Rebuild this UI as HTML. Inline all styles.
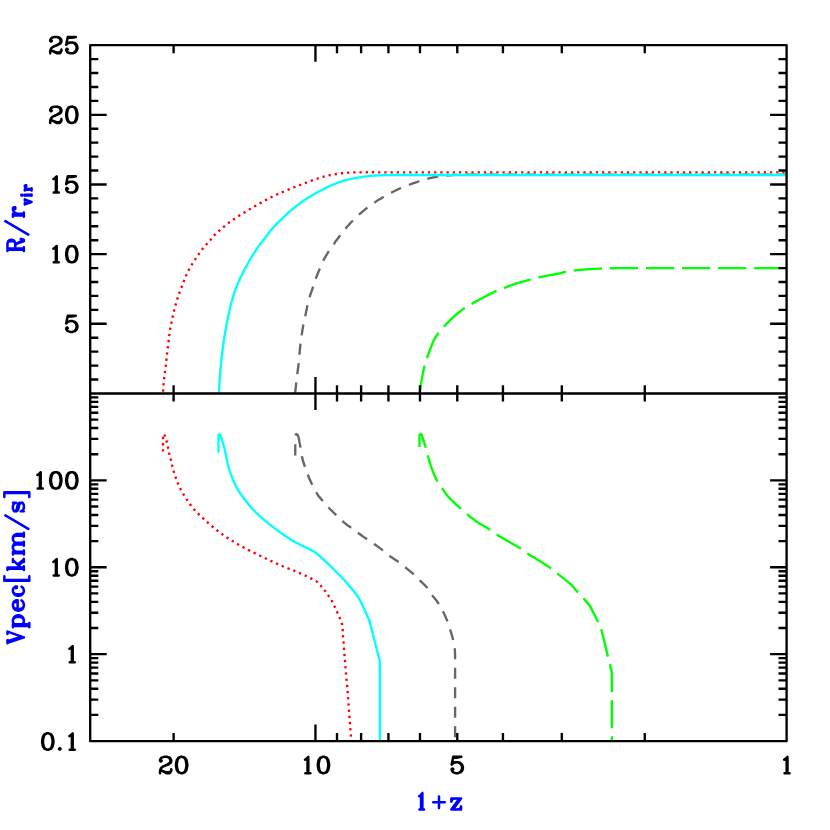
<!DOCTYPE html>
<html><head><meta charset="utf-8"><title>chart</title>
<style>html,body{margin:0;padding:0;background:#fff;font-family:"Liberation Sans",sans-serif}svg{display:block}</style></head>
<body>
<svg width="830" height="830" viewBox="0 0 830 830">
<rect width="830" height="830" fill="#fff"/>
<path d="M163 393.5 L163.03 392.93 L163.06 392.18 L163.11 391.27 L163.16 390.24 L163.22 389.14 L163.3 388 L163.38 386.82 L163.47 385.59 L163.57 384.27 L163.69 382.86 L163.83 381.34 L164 379.7 L164.22 377.89 L164.48 375.93 L164.76 373.85 L165.06 371.72 L165.34 369.58 L165.6 367.5 L165.83 365.46 L166.05 363.41 L166.26 361.36 L166.46 359.3 L166.68 357.25 L166.9 355.2 L167.14 353.15 L167.38 351.1 L167.63 349.05 L167.89 347 L168.14 344.95 L168.4 342.9 L168.65 340.85 L168.88 338.81 L169.12 336.77 L169.36 334.72 L169.64 332.67 L169.95 330.6 L170.3 328.51 L170.68 326.4 L171.09 324.28 L171.52 322.17 L171.96 320.07 L172.4 318 L172.85 315.96 L173.31 313.95 L173.78 311.95 L174.26 309.96 L174.77 307.98 L175.3 306 L175.85 304.02 L176.41 302.06 L176.99 300.1 L177.6 298.14 L178.23 296.18 L178.9 294.2 L179.64 292.14 L180.45 289.98 L181.29 287.81 L182.11 285.73 L182.87 283.83 L183.5 282.2 L183.95 280.96 L184.24 280.07 L184.47 279.36 L184.71 278.66 L185.06 277.79 L185.6 276.6 L186.31 275.08 L187.13 273.36 L188.05 271.49 L189.08 269.48 L190.23 267.38 L191.5 265.2 L192.96 262.85 L194.6 260.29 L196.37 257.62 L198.17 254.98 L199.94 252.46 L201.6 250.2 L203.2 248.16 L204.82 246.24 L206.4 244.45 L207.89 242.81 L209.24 241.32 L210.4 240 L211.19 239 L211.61 238.34 L211.89 237.84 L212.26 237.31 L212.92 236.56 L214.1 235.4 L215.84 233.77 L217.96 231.82 L220.38 229.64 L223.02 227.36 L225.79 225.07 L228.6 222.9 L231.49 220.82 L234.54 218.74 L237.72 216.66 L241 214.57 L244.37 212.49 L247.8 210.4 L251.37 208.25 L255.12 206.04 L258.96 203.82 L262.78 201.67 L266.49 199.64 L270 197.8 L273.29 196.18 L276.42 194.72 L279.45 193.39 L282.41 192.14 L285.35 190.93 L288.3 189.7 L291.25 188.47 L294.17 187.28 L297.06 186.12 L299.94 184.99 L302.82 183.88 L305.7 182.8 L308.66 181.71 L311.71 180.6 L314.75 179.51 L317.7 178.49 L320.48 177.58 L323 176.8 L325.22 176.19 L327.21 175.73 L329.02 175.36 L330.71 175.06 L332.36 174.79 L334 174.5 L335.6 174.21 L337.11 173.94 L338.56 173.7 L340 173.48 L341.47 173.28 L343 173.1 L344.59 172.94 L346.19 172.79 L347.81 172.67 L349.48 172.56 L351.21 172.47 L353 172.4 L354.85 172.35 L356.74 172.32 L358.68 172.31 L360.7 172.3 L362.8 172.3 L365 172.3 L367.33 172.29 L369.79 172.29 L372.34 172.29 L374.92 172.3 L377.51 172.3 L380.06 172.3 L382.57 172.3 L385.08 172.3 L387.59 172.3 L390.1 172.3 L392.6 172.3 L395.11 172.3 L397.62 172.3 L400.13 172.3 L402.64 172.3 L405.15 172.3 L407.66 172.3 L410.17 172.3 L412.68 172.3 L415.19 172.3 L417.7 172.3 L420.21 172.3 L422.72 172.3 L425.23 172.3 L427.74 172.3 L430.25 172.3 L432.76 172.3 L435.27 172.3 L437.78 172.3 L440.29 172.3 L442.8 172.3 L445.3 172.3 L447.81 172.3 L450.32 172.3 L452.83 172.3 L455.34 172.3 L457.85 172.3 L460.36 172.3 L462.87 172.3 L465.38 172.3 L467.89 172.3 L470.4 172.3 L472.91 172.3 L475.42 172.3 L477.93 172.3 L480.44 172.3 L482.95 172.3 L485.46 172.3 L487.97 172.3 L490.48 172.3 L492.99 172.3 L495.5 172.3 L498 172.3 L500.51 172.3 L503.02 172.3 L505.53 172.3 L508.04 172.3 L510.55 172.3 L513.06 172.3 L515.57 172.3 L518.08 172.3 L520.59 172.3 L523.1 172.3 L525.61 172.3 L528.12 172.3 L530.63 172.3 L533.14 172.3 L535.65 172.3 L538.16 172.3 L540.67 172.3 L543.18 172.3 L545.69 172.3 L548.2 172.3 L550.7 172.3 L553.21 172.3 L555.72 172.3 L558.23 172.3 L560.74 172.3 L563.25 172.3 L565.76 172.3 L568.27 172.3 L570.78 172.3 L573.29 172.3 L575.8 172.3 L578.31 172.3 L580.82 172.3 L583.33 172.3 L585.84 172.3 L588.35 172.3 L590.86 172.3 L593.37 172.3 L595.88 172.3 L598.39 172.3 L600.9 172.3 L603.4 172.3 L605.91 172.3 L608.42 172.3 L610.93 172.3 L613.44 172.3 L615.95 172.3 L618.46 172.3 L620.97 172.3 L623.48 172.3 L625.99 172.3 L628.5 172.3 L631.01 172.3 L633.52 172.3 L636.03 172.3 L638.54 172.3 L641.05 172.3 L643.56 172.3 L646.07 172.3 L648.58 172.3 L651.09 172.3 L653.6 172.3 L656.1 172.3 L658.61 172.3 L661.12 172.3 L663.63 172.3 L666.14 172.3 L668.65 172.3 L671.16 172.3 L673.67 172.3 L676.18 172.3 L678.69 172.3 L681.2 172.3 L683.71 172.3 L686.22 172.3 L688.73 172.3 L691.24 172.3 L693.75 172.3 L696.26 172.3 L698.77 172.3 L701.28 172.3 L703.79 172.3 L706.3 172.3 L708.8 172.3 L711.31 172.3 L713.82 172.3 L716.33 172.3 L718.84 172.3 L721.35 172.3 L723.86 172.3 L726.37 172.3 L728.88 172.3 L731.39 172.3 L733.9 172.3 L736.41 172.3 L738.92 172.3 L741.43 172.3 L743.94 172.3 L746.45 172.3 L748.96 172.3 L751.47 172.3 L753.98 172.3 L756.49 172.3 L759 172.3 L761.5 172.3 L764.01 172.3 L766.52 172.3 L769.03 172.3 L771.54 172.3 L774.23 172.3 L777.12 172.3 L780.01 172.3 L782.7 172.3 L784.96 172.3 L786.6 172.3" fill="none" stroke="#ff0000" stroke-width="2.35" stroke-linejoin="round" stroke-dasharray="2.3 3.92" stroke-dashoffset="-1.8"/>
<path d="M295.1 393.5 L295.18 392.71 L295.3 391.65 L295.43 390.38 L295.58 388.96 L295.74 387.48 L295.9 386 L296.06 384.52 L296.22 382.99 L296.39 381.38 L296.57 379.69 L296.77 377.9 L297 376 L297.26 374 L297.55 371.93 L297.86 369.75 L298.18 367.45 L298.5 365.01 L298.8 362.4 L299.08 359.57 L299.33 356.53 L299.58 353.34 L299.85 350.08 L300.15 346.81 L300.5 343.6 L300.93 340.31 L301.41 336.87 L301.94 333.41 L302.46 330.1 L302.96 327.08 L303.4 324.5 L303.77 322.48 L304.1 320.93 L304.39 319.67 L304.68 318.53 L304.98 317.33 L305.3 315.9 L305.65 314.22 L306.01 312.43 L306.39 310.57 L306.76 308.73 L307.14 306.95 L307.5 305.3 L307.84 303.82 L308.15 302.49 L308.46 301.21 L308.79 299.94 L309.16 298.59 L309.6 297.1 L310.12 295.46 L310.71 293.71 L311.34 291.9 L311.99 290.04 L312.65 288.16 L313.3 286.3 L313.89 284.5 L314.44 282.76 L315 281.01 L315.61 279.16 L316.33 277.15 L317.2 274.9 L318.25 272.31 L319.44 269.43 L320.73 266.38 L322.1 263.3 L323.5 260.33 L324.9 257.6 L326.4 255.02 L328.04 252.46 L329.72 250.01 L331.33 247.75 L332.76 245.75 L333.9 244.1 L334.59 243.03 L334.87 242.53 L334.97 242.29 L335.12 242.03 L335.56 241.43 L336.5 240.2 L338.02 238.22 L339.95 235.71 L342.16 232.87 L344.53 229.91 L346.91 227.01 L349.2 224.4 L351.39 222.04 L353.6 219.76 L355.83 217.56 L358.1 215.43 L360.42 213.34 L362.8 211.3 L365.24 209.3 L367.73 207.37 L370.27 205.48 L372.86 203.64 L375.5 201.85 L378.2 200.1 L380.97 198.38 L383.82 196.69 L386.72 195.04 L389.66 193.46 L392.59 191.94 L395.5 190.5 L398.37 189.16 L401.22 187.9 L404.08 186.71 L406.96 185.58 L409.89 184.48 L412.9 183.4 L416.03 182.32 L419.27 181.24 L422.56 180.2 L425.84 179.23 L429.08 178.35 L432.2 177.6 L435.22 176.99 L438.18 176.51 L441.09 176.12 L443.94 175.81 L446.74 175.54 L449.5 175.3 L452.19 175.09 L454.81 174.95 L457.37 174.86 L459.91 174.79 L462.45 174.75 L465 174.7 L467.56 174.67 L470.12 174.66 L472.67 174.66 L475.22 174.68 L477.76 174.69 L480.31 174.7 L482.87 174.7 L485.42 174.7 L487.97 174.7 L490.52 174.7 L493.08 174.7 L495.63 174.7 L498.18 174.7 L500.73 174.7 L503.29 174.7 L505.84 174.7 L508.39 174.7 L510.94 174.7 L513.5 174.7 L516.05 174.7 L518.6 174.7 L521.15 174.7 L523.7 174.7 L526.26 174.7 L528.81 174.7 L531.36 174.7 L533.91 174.7 L536.47 174.7 L539.02 174.7 L541.57 174.7 L544.12 174.7 L546.68 174.7 L549.23 174.7 L551.78 174.7 L554.33 174.7 L556.89 174.7 L559.44 174.7 L561.99 174.7 L564.54 174.7 L567.1 174.7 L569.65 174.7 L572.2 174.7 L574.75 174.7 L577.3 174.7 L579.86 174.7 L582.41 174.7 L584.96 174.7 L587.51 174.7 L590.07 174.7 L592.62 174.7 L595.17 174.7 L597.72 174.7 L600.28 174.7 L602.83 174.7 L605.38 174.7 L607.93 174.7 L610.49 174.7 L613.04 174.7 L615.59 174.7 L618.14 174.7 L620.7 174.7 L623.25 174.7 L625.8 174.7 L628.35 174.7 L630.9 174.7 L633.46 174.7 L636.01 174.7 L638.56 174.7 L641.11 174.7 L643.67 174.7 L646.22 174.7 L648.77 174.7 L651.32 174.7 L653.88 174.7 L656.43 174.7 L658.98 174.7 L661.53 174.7 L664.09 174.7 L666.64 174.7 L669.19 174.7 L671.74 174.7 L674.3 174.7 L676.85 174.7 L679.4 174.7 L681.95 174.7 L684.5 174.7 L687.06 174.7 L689.61 174.7 L692.16 174.7 L694.71 174.7 L697.27 174.7 L699.82 174.7 L702.37 174.7 L704.92 174.7 L707.48 174.7 L710.03 174.7 L712.58 174.7 L715.13 174.7 L717.69 174.7 L720.24 174.7 L722.79 174.7 L725.34 174.7 L727.9 174.7 L730.45 174.7 L733 174.7 L735.55 174.7 L738.1 174.7 L740.66 174.7 L743.21 174.7 L745.76 174.7 L748.31 174.7 L750.87 174.7 L753.42 174.7 L755.97 174.7 L758.52 174.7 L761.08 174.7 L763.63 174.7 L766.18 174.7 L768.73 174.7 L771.29 174.7 L774.02 174.7 L776.96 174.7 L779.9 174.7 L782.63 174.7 L784.93 174.7 L786.6 174.7" fill="none" stroke="#666666" stroke-width="2.35" stroke-linejoin="round" stroke-dasharray="11.1 8.4"/>
<path d="M218.9 393.5 L218.93 392.99 L218.96 392.35 L219 391.56 L219.05 390.59 L219.12 389.41 L219.2 388 L219.29 386.34 L219.39 384.46 L219.5 382.36 L219.63 380.08 L219.8 377.62 L220 375 L220.24 372.17 L220.51 369.1 L220.82 365.86 L221.15 362.51 L221.51 359.1 L221.9 355.7 L222.31 352.27 L222.76 348.74 L223.23 345.16 L223.72 341.57 L224.25 338 L224.8 334.5 L225.39 331.01 L226.03 327.48 L226.7 323.97 L227.38 320.56 L228.05 317.28 L228.7 314.2 L229.3 311.38 L229.87 308.8 L230.43 306.35 L231.02 303.96 L231.66 301.54 L232.4 299 L233.2 296.38 L234.03 293.76 L234.93 291.11 L235.9 288.4 L236.98 285.61 L238.2 282.7 L239.61 279.57 L241.21 276.21 L242.92 272.77 L244.66 269.39 L246.35 266.18 L247.9 263.3 L249.36 260.71 L250.79 258.3 L252.18 256.08 L253.47 254.05 L254.66 252.22 L255.7 250.6 L256.55 249.26 L257.23 248.22 L257.79 247.37 L258.3 246.64 L258.81 245.91 L259.4 245.1 L259.96 244.33 L260.44 243.71 L260.92 243.09 L261.51 242.36 L262.3 241.37 L263.4 240 L264.8 238.19 L266.43 236.02 L268.26 233.61 L270.28 231.03 L272.47 228.4 L274.8 225.8 L277.35 223.15 L280.16 220.35 L283.13 217.49 L286.19 214.66 L289.24 211.93 L292.2 209.4 L295.07 207.07 L297.9 204.87 L300.73 202.78 L303.59 200.77 L306.5 198.82 L309.5 196.9 L312.68 194.98 L316.03 193.08 L319.43 191.24 L322.77 189.5 L325.94 187.9 L328.8 186.5 L331.37 185.31 L333.75 184.29 L335.94 183.43 L337.97 182.67 L339.85 182.01 L341.6 181.4 L343.16 180.88 L344.52 180.48 L345.73 180.16 L346.84 179.9 L347.91 179.66 L349 179.4 L349.99 179.15 L350.82 178.94 L351.61 178.75 L352.49 178.56 L353.58 178.35 L355 178.1 L356.85 177.79 L359.05 177.44 L361.46 177.07 L363.95 176.7 L366.37 176.37 L368.6 176.1 L370.62 175.89 L372.54 175.73 L374.4 175.59 L376.24 175.49 L378.09 175.39 L380 175.3 L381.93 175.22 L383.84 175.15 L385.76 175.1 L387.74 175.06 L389.81 175.03 L392 175 L394.35 174.98 L396.82 174.98 L399.39 174.98 L402 174.99 L404.61 175 L407.18 175 L409.71 175 L412.24 175 L414.77 175 L417.29 175 L419.82 175 L422.35 175 L424.88 175 L427.41 175 L429.94 175 L432.47 175 L435 175 L437.53 175 L440.06 175 L442.59 175 L445.12 175 L447.65 175 L450.18 175 L452.71 175 L455.24 175 L457.77 175 L460.3 175 L462.83 175 L465.36 175 L467.88 175 L470.41 175 L472.94 175 L475.47 175 L478 175 L480.53 175 L483.06 175 L485.59 175 L488.12 175 L490.65 175 L493.18 175 L495.71 175 L498.24 175 L500.77 175 L503.3 175 L505.83 175 L508.36 175 L510.89 175 L513.42 175 L515.94 175 L518.47 175 L521 175 L523.53 175 L526.06 175 L528.59 175 L531.12 175 L533.65 175 L536.18 175 L538.71 175 L541.24 175 L543.77 175 L546.3 175 L548.83 175 L551.36 175 L553.89 175 L556.42 175 L558.95 175 L561.48 175 L564.01 175 L566.53 175 L569.06 175 L571.59 175 L574.12 175 L576.65 175 L579.18 175 L581.71 175 L584.24 175 L586.77 175 L589.3 175 L591.83 175 L594.36 175 L596.89 175 L599.42 175 L601.95 175 L604.48 175 L607.01 175 L609.54 175 L612.07 175 L614.59 175 L617.12 175 L619.65 175 L622.18 175 L624.71 175 L627.24 175 L629.77 175 L632.3 175 L634.83 175 L637.36 175 L639.89 175 L642.42 175 L644.95 175 L647.48 175 L650.01 175 L652.54 175 L655.07 175 L657.6 175 L660.13 175 L662.66 175 L665.18 175 L667.71 175 L670.24 175 L672.77 175 L675.3 175 L677.83 175 L680.36 175 L682.89 175 L685.42 175 L687.95 175 L690.48 175 L693.01 175 L695.54 175 L698.07 175 L700.6 175 L703.13 175 L705.66 175 L708.19 175 L710.72 175 L713.24 175 L715.77 175 L718.3 175 L720.83 175 L723.36 175 L725.89 175 L728.42 175 L730.95 175 L733.48 175 L736.01 175 L738.54 175 L741.07 175 L743.6 175 L746.13 175 L748.66 175 L751.19 175 L753.72 175 L756.25 175 L758.78 175 L761.31 175 L763.83 175 L766.36 175 L768.89 175 L771.42 175 L774.13 175 L777.04 175 L779.96 175 L782.67 175 L784.95 175 L786.6 175" fill="none" stroke="#00ffff" stroke-width="2.35" stroke-linejoin="round"/>
<path d="M419.9 393.5 L419.89 393.18 L419.84 392.89 L419.81 392.47 L419.82 391.76 L419.94 390.59 L420.2 388.8 L420.64 386.12 L421.23 382.63 L421.92 378.69 L422.67 374.63 L423.41 370.82 L424.1 367.6 L424.73 365.04 L425.33 362.86 L425.94 360.93 L426.57 359.09 L427.25 357.2 L428 355.1 L428.86 352.72 L429.8 350.16 L430.79 347.55 L431.79 345 L432.78 342.65 L433.7 340.6 L434.54 338.92 L435.33 337.53 L436.09 336.32 L436.86 335.21 L437.69 334.1 L438.6 332.9 L439.59 331.63 L440.63 330.37 L441.71 329.11 L442.85 327.84 L444.05 326.54 L445.3 325.2 L446.62 323.8 L448.02 322.34 L449.47 320.85 L450.96 319.36 L452.47 317.9 L454 316.5 L455.56 315.13 L457.17 313.77 L458.8 312.43 L460.43 311.14 L462.04 309.93 L463.6 308.8 L465.07 307.8 L466.46 306.93 L467.83 306.12 L469.22 305.33 L470.69 304.51 L472.3 303.6 L474.07 302.6 L475.96 301.53 L477.93 300.44 L479.93 299.33 L481.94 298.25 L483.9 297.2 L485.85 296.17 L487.84 295.13 L489.83 294.11 L491.78 293.13 L493.65 292.22 L495.4 291.4 L496.98 290.7 L498.4 290.12 L499.74 289.61 L501.09 289.11 L502.51 288.59 L504.1 288 L505.84 287.33 L507.68 286.61 L509.6 285.88 L511.59 285.13 L513.62 284.4 L515.7 283.7 L517.89 283.02 L520.2 282.35 L522.58 281.69 L524.92 281.05 L527.15 280.45 L529.2 279.9 L531 279.41 L532.61 278.96 L534.12 278.56 L535.6 278.17 L537.13 277.79 L538.8 277.4 L540.65 277 L542.63 276.59 L544.66 276.19 L546.68 275.81 L548.62 275.44 L550.4 275.1 L552.04 274.79 L553.61 274.51 L555.09 274.25 L556.48 274 L557.79 273.75 L559 273.5 L560.04 273.25 L560.9 273.01 L561.67 272.77 L562.45 272.53 L563.33 272.29 L564.4 272.05 L565.65 271.81 L567 271.56 L568.45 271.31 L570 271.06 L571.65 270.83 L573.4 270.6 L575.27 270.38 L577.26 270.17 L579.36 269.96 L581.53 269.76 L583.75 269.57 L586 269.4 L588.37 269.24 L590.89 269.09 L593.47 268.95 L596 268.82 L598.37 268.7 L600.5 268.6 L602.12 268.51 L603.27 268.44 L604.26 268.38 L605.43 268.34 L607.1 268.29 L609.6 268.25 L613.2 268.21 L617.69 268.18 L622.68 268.15 L627.77 268.13 L632.58 268.11 L636.7 268.1 L640.08 268.09 L643.03 268.09 L645.68 268.09 L648.19 268.09 L650.7 268.1 L653.36 268.1 L656.13 268.1 L658.91 268.1 L661.68 268.1 L664.46 268.1 L667.24 268.1 L670.01 268.1 L672.79 268.1 L675.56 268.1 L678.34 268.1 L681.11 268.1 L683.89 268.1 L686.67 268.1 L689.44 268.1 L692.22 268.1 L694.99 268.1 L697.77 268.1 L700.55 268.1 L703.32 268.1 L706.1 268.1 L708.87 268.1 L711.65 268.1 L714.43 268.1 L717.2 268.1 L719.98 268.1 L722.75 268.1 L725.53 268.1 L728.31 268.1 L731.08 268.1 L733.86 268.1 L736.63 268.1 L739.41 268.1 L742.19 268.1 L744.96 268.1 L747.74 268.1 L750.51 268.1 L753.29 268.1 L756.06 268.1 L758.84 268.1 L761.62 268.1 L764.39 268.1 L767.17 268.1 L769.94 268.1 L772.91 268.1 L776.11 268.1 L779.31 268.1 L782.28 268.1 L784.79 268.1 L786.6 268.1" fill="none" stroke="#00ff00" stroke-width="2.35" stroke-linejoin="round" stroke-dasharray="28.2 7.9"/>
<path d="M163 452.7 L163 434.7 L163.7 434 L164.6 435.2 L164.8 435.76 L165.08 436.52 L165.41 437.43 L165.76 438.41 L166.1 439.43 L166.4 440.4 L166.66 441.35 L166.9 442.33 L167.14 443.34 L167.36 444.36 L167.58 445.38 L167.8 446.4 L168.01 447.42 L168.2 448.46 L168.39 449.5 L168.58 450.54 L168.78 451.58 L169 452.6 L169.25 453.61 L169.51 454.61 L169.79 455.61 L170.07 456.6 L170.35 457.6 L170.6 458.6 L170.81 459.53 L170.96 460.38 L171.11 461.23 L171.29 462.17 L171.54 463.29 L171.9 464.7 L172.38 466.46 L172.94 468.52 L173.58 470.76 L174.27 473.08 L174.98 475.36 L175.7 477.5 L176.43 479.51 L177.19 481.5 L177.97 483.44 L178.79 485.35 L179.63 487.2 L180.5 489 L181.39 490.71 L182.29 492.33 L183.22 493.91 L184.19 495.47 L185.21 497.05 L186.3 498.7 L187.46 500.44 L188.69 502.24 L189.97 504.06 L191.29 505.87 L192.64 507.63 L194 509.3 L195.39 510.87 L196.83 512.38 L198.29 513.83 L199.77 515.24 L201.24 516.63 L202.7 518 L204.13 519.34 L205.53 520.64 L206.94 521.91 L208.36 523.17 L209.8 524.43 L211.3 525.7 L212.83 526.98 L214.39 528.27 L215.97 529.55 L217.59 530.83 L219.27 532.12 L221 533.4 L222.77 534.67 L224.55 535.93 L226.39 537.19 L228.3 538.46 L230.33 539.76 L232.5 541.1 L234.83 542.5 L237.3 543.94 L239.89 545.41 L242.55 546.89 L245.27 548.36 L248 549.8 L250.79 551.22 L253.66 552.64 L256.58 554.06 L259.51 555.46 L262.43 556.84 L265.3 558.2 L268.17 559.57 L271.08 560.96 L273.98 562.33 L276.8 563.65 L279.49 564.89 L282 566 L284.29 566.96 L286.39 567.78 L288.37 568.52 L290.27 569.22 L292.17 569.93 L294.1 570.7 L296.13 571.55 L298.22 572.46 L300.3 573.37 L302.29 574.26 L304.11 575.08 L305.7 575.8 L306.99 576.39 L308.03 576.89 L308.91 577.31 L309.71 577.71 L310.51 578.13 L311.4 578.6 L312.35 579.07 L313.29 579.5 L314.23 579.94 L315.19 580.46 L316.17 581.09 L317.2 581.9 L318.31 582.96 L319.5 584.23 L320.72 585.62 L321.91 587.05 L323.02 588.4 L324 589.6 L324.82 590.62 L325.52 591.53 L326.14 592.38 L326.71 593.19 L327.29 594.02 L327.9 594.9 L328.55 595.83 L329.21 596.77 L329.87 597.73 L330.51 598.69 L331.13 599.65 L331.7 600.6 L332.23 601.55 L332.73 602.51 L333.21 603.47 L333.66 604.41 L334.09 605.33 L334.5 606.2 L334.88 606.99 L335.2 607.69 L335.51 608.36 L335.83 609.07 L336.18 609.86 L336.6 610.8 L337.11 611.92 L337.68 613.19 L338.29 614.54 L338.91 615.93 L339.49 617.3 L340 618.6 L340.45 619.77 L340.87 620.86 L341.26 621.92 L341.61 623.03 L341.92 624.27 L342.2 625.7 L342.42 627.35 L342.59 629.17 L342.73 631.11 L342.84 633.12 L342.96 635.17 L343.1 637.2 L343.26 639.25 L343.43 641.36 L343.6 643.5 L343.77 645.64 L343.94 647.75 L344.1 649.8 L344.25 651.77 L344.4 653.67 L344.55 655.55 L344.7 657.43 L344.85 659.33 L345 661.3 L345.16 663.34 L345.32 665.42 L345.48 667.54 L345.65 669.67 L345.82 671.79 L346 673.9 L346.19 675.93 L346.38 677.9 L346.58 679.86 L346.79 681.88 L346.99 684.04 L347.2 686.4 L347.41 688.98 L347.62 691.74 L347.84 694.62 L348.06 697.61 L348.28 700.65 L348.5 703.7 L348.73 706.88 L348.97 710.24 L349.22 713.65 L349.46 717 L349.69 720.15 L349.9 723 L350.1 725.56 L350.29 727.93 L350.46 730.11 L350.63 732.1 L350.77 733.89 L350.9 735.5 L351.01 736.9 L351.09 738.09 L351.16 739.08 L351.22 739.9 L351.26 740.57 L351.3 741.1" fill="none" stroke="#ff0000" stroke-width="2.35" stroke-linejoin="round" stroke-dasharray="2.3 3.92" stroke-dashoffset="-1.1"/>
<path d="M302 456.1 L302.07 456.51 L302.11 456.97 L302.19 457.58 L302.34 458.4 L302.63 459.55 L303.1 461.1 L303.77 463.19 L304.61 465.76 L305.59 468.65 L306.65 471.69 L307.77 474.69 L308.9 477.5 L310.1 480.22 L311.4 483 L312.76 485.76 L314.12 488.4 L315.42 490.81 L316.6 492.9 L317.64 494.6 L318.59 495.96 L319.47 497.1 L320.34 498.13 L321.23 499.16 L322.2 500.3 L323.23 501.53 L324.29 502.76 L325.37 503.98 L326.48 505.21 L327.62 506.45 L328.8 507.7 L330 508.96 L331.24 510.22 L332.5 511.49 L333.8 512.78 L335.13 514.08 L336.5 515.4 L337.97 516.8 L339.53 518.29 L341.14 519.79 L342.71 521.24 L344.19 522.56 L345.5 523.7 L346.57 524.56 L347.43 525.2 L348.19 525.71 L348.96 526.2 L349.86 526.8 L351 527.6 L352.46 528.67 L354.17 529.94 L356.01 531.31 L357.84 532.67 L359.55 533.93 L361 535 L362.09 535.79 L362.9 536.37 L363.58 536.86 L364.29 537.35 L365.18 537.96 L366.4 538.8 L368.02 539.89 L369.91 541.15 L371.99 542.52 L374.14 543.97 L376.28 545.45 L378.3 546.9 L380.24 548.38 L382.18 549.95 L384.1 551.54 L385.98 553.1 L387.79 554.57 L389.5 555.9 L391.12 557.06 L392.66 558.09 L394.13 559.02 L395.54 559.91 L396.89 560.79 L398.2 561.7 L399.41 562.6 L400.51 563.47 L401.55 564.32 L402.59 565.19 L403.69 566.11 L404.9 567.1 L406.27 568.2 L407.76 569.39 L409.31 570.62 L410.84 571.87 L412.29 573.07 L413.6 574.2 L414.71 575.22 L415.68 576.16 L416.56 577.06 L417.43 577.97 L418.36 578.94 L419.4 580 L420.61 581.18 L421.94 582.45 L423.32 583.77 L424.69 585.11 L425.97 586.43 L427.1 587.7 L428.03 588.9 L428.81 590.05 L429.51 591.19 L430.19 592.34 L430.93 593.53 L431.8 594.8 L432.83 596.16 L433.99 597.58 L435.19 599.05 L436.4 600.54 L437.56 602.03 L438.6 603.5 L439.53 604.95 L440.39 606.4 L441.19 607.86 L441.95 609.31 L442.68 610.76 L443.4 612.2 L444.1 613.64 L444.77 615.07 L445.42 616.5 L446.04 617.93 L446.63 619.36 L447.2 620.8 L447.74 622.23 L448.23 623.66 L448.71 625.08 L449.17 626.52 L449.63 627.99 L450.1 629.5 L450.6 631.07 L451.11 632.7 L451.63 634.36 L452.12 636.01 L452.59 637.64 L453 639.2 L453.37 640.68 L453.7 642.11 L454.01 643.5 L454.27 644.89 L454.51 646.32 L454.7 647.8 L454.85 649.47 L454.94 651.31 L455.01 653.19 L455.04 654.94 L455.07 656.43 L455.1 657.5 L455.1 659.32 L455.1 661.83 L455.1 664.82 L455.1 668.03 L455.1 671.24 L455.1 674.22 L455.1 677.01 L455.1 679.79 L455.1 682.58 L455.1 685.37 L455.1 688.15 L455.1 690.94 L455.1 693.73 L455.1 696.51 L455.1 699.3 L455.1 702.09 L455.1 704.87 L455.1 707.66 L455.1 710.45 L455.1 713.23 L455.1 716.02 L455.1 718.81 L455.1 721.59 L455.1 724.38 L455.1 727.36 L455.1 730.57 L455.1 733.79 L455.1 736.77 L455.1 739.28 L455.1 741.1" fill="none" stroke="#666666" stroke-width="2.35" stroke-linejoin="round" stroke-dasharray="11.1 8.4"/>
<path d="M295.25 455.6V444.3M295.2 435.3L296.2 434.1L297.3 434.6L298.4 436.6L300.55 447.65" fill="none" stroke="#666666" stroke-width="2.35" stroke-linejoin="round"/>
<path d="M218.5 452.7 L218.5 435.2 L219.4 434.2 L220.5 435.3 L220.64 435.71 L220.83 436.23 L221.05 436.86 L221.31 437.62 L221.59 438.5 L221.9 439.5 L222.25 440.68 L222.64 442.06 L223.07 443.55 L223.5 445.1 L223.92 446.64 L224.3 448.1 L224.65 449.49 L224.98 450.86 L225.29 452.23 L225.6 453.58 L225.9 454.94 L226.2 456.3 L226.48 457.66 L226.74 459 L227 460.34 L227.27 461.7 L227.56 463.08 L227.9 464.5 L228.26 465.91 L228.61 467.3 L228.99 468.72 L229.43 470.21 L229.96 471.82 L230.6 473.6 L231.37 475.62 L232.23 477.84 L233.19 480.19 L234.21 482.58 L235.29 484.91 L236.4 487.1 L237.55 489.14 L238.76 491.11 L240.01 493.03 L241.32 494.91 L242.68 496.79 L244.1 498.7 L245.57 500.63 L247.09 502.57 L248.66 504.51 L250.28 506.44 L251.96 508.34 L253.7 510.2 L255.5 512.02 L257.35 513.8 L259.26 515.56 L261.22 517.3 L263.23 519.04 L265.3 520.8 L267.54 522.65 L269.99 524.6 L272.48 526.56 L274.88 528.41 L277.04 530.06 L278.8 531.4 L280.01 532.32 L280.76 532.89 L281.26 533.24 L281.73 533.56 L282.41 533.99 L283.5 534.7 L285.01 535.7 L286.75 536.87 L288.69 538.16 L290.79 539.51 L293 540.88 L295.3 542.2 L297.86 543.55 L300.76 544.99 L303.78 546.44 L306.7 547.82 L309.32 549.07 L311.4 550.1 L312.92 550.91 L314.04 551.54 L314.86 552.04 L315.44 552.43 L315.9 552.74 L316.3 553 L317.76 554.34 L319.77 556.17 L322.15 558.34 L324.73 560.72 L327.34 563.16 L329.8 565.5 L332.19 567.82 L334.67 570.26 L337.18 572.75 L339.65 575.24 L342.01 577.68 L344.2 580 L346.24 582.24 L348.19 584.46 L350.04 586.61 L351.76 588.69 L353.36 590.66 L354.8 592.5 L356.11 594.27 L357.3 596 L358.36 597.63 L359.27 599.09 L360.02 600.3 L360.6 601.2 L369.4 620.4 L369.97 622.62 L370.75 625.7 L371.67 629.35 L372.67 633.28 L373.67 637.2 L374.6 640.85 L375.53 644.5 L376.53 648.42 L377.53 652.35 L378.45 656 L379.23 659.08 L379.8 661.3 L379.8 663.04 L379.8 665.44 L379.8 668.28 L379.8 671.35 L379.8 674.42 L379.8 677.26 L379.8 679.92 L379.8 682.58 L379.8 685.24 L379.8 687.9 L379.8 690.56 L379.8 693.22 L379.8 695.88 L379.8 698.54 L379.8 701.2 L379.8 703.86 L379.8 706.52 L379.8 709.18 L379.8 711.84 L379.8 714.5 L379.8 717.16 L379.8 719.82 L379.8 722.48 L379.8 725.14 L379.8 727.98 L379.8 731.05 L379.8 734.12 L379.8 736.96 L379.8 739.36 L379.8 741.1" fill="none" stroke="#00ffff" stroke-width="2.35" stroke-linejoin="round"/>
<path d="M419.46 446.9 L419.46 435 L420.3 434.1 L421.5 434.6 L421.96 435.97 L422.61 437.89 L423.38 440.16 L424.17 442.53 L424.91 444.79 L425.5 446.7 L425.92 448.24 L426.24 449.57 L426.51 450.79 L426.76 451.97 L427.04 453.22 L427.4 454.6 L427.88 456.22 L428.43 458.02 L429.02 459.88 L429.6 461.66 L430.11 463.24 L430.5 464.5 L430.7 465.24 L430.72 465.53 L430.68 465.62 L430.68 465.77 L430.82 466.21 L431.2 467.2 L431.88 468.9 L432.79 471.13 L433.84 473.67 L434.95 476.27 L436.03 478.69 L437 480.7 L437.82 482.23 L438.57 483.46 L439.28 484.51 L440.02 485.51 L440.84 486.6 L441.8 487.9 L442.89 489.43 L444.06 491.1 L445.31 492.85 L446.64 494.63 L448.04 496.4 L449.5 498.1 L451.09 499.77 L452.83 501.46 L454.63 503.14 L456.43 504.76 L458.14 506.29 L459.7 507.7 L461.03 508.93 L462.2 510.01 L463.27 510.99 L464.36 511.96 L465.54 512.97 L466.9 514.1 L468.46 515.37 L470.16 516.73 L471.95 518.13 L473.8 519.54 L475.66 520.91 L477.5 522.2 L479.37 523.41 L481.32 524.59 L483.28 525.72 L485.2 526.81 L487.03 527.87 L488.7 528.9 L490.14 529.86 L491.37 530.73 L492.51 531.57 L493.65 532.42 L494.91 533.32 L496.4 534.3 L498.15 535.39 L500.08 536.57 L502.13 537.79 L504.23 539.02 L506.31 540.24 L508.3 541.4 L510.25 542.52 L512.24 543.63 L514.2 544.72 L516.1 545.78 L517.88 546.81 L519.5 547.8 L520.86 548.71 L521.97 549.53 L522.96 550.32 L523.98 551.13 L525.15 552 L526.6 553 L528.41 554.15 L530.47 555.42 L532.69 556.76 L534.96 558.11 L537.16 559.45 L539.2 560.7 L541.09 561.88 L542.93 563.03 L544.71 564.16 L546.42 565.26 L548.05 566.34 L549.6 567.4 L550.97 568.39 L552.14 569.29 L553.24 570.17 L554.38 571.11 L555.66 572.16 L557.2 573.4 L559.11 574.9 L561.33 576.61 L563.69 578.44 L566.04 580.3 L568.23 582.08 L570.1 583.7 L571.62 585.15 L572.91 586.51 L574.03 587.79 L575.06 589.03 L576.06 590.22 L577.1 591.4 L578.15 592.53 L579.16 593.59 L580.13 594.61 L581.1 595.63 L582.08 596.68 L583.1 597.8 L584.23 599.09 L585.47 600.53 L586.73 602 L587.9 603.39 L588.89 604.56 L589.6 605.4 L600.7 626.9 L601.1 628.55 L601.66 630.83 L602.32 633.54 L603.03 636.45 L603.74 639.36 L604.4 642.07 L605.02 644.59 L605.63 647.12 L606.25 649.65 L606.87 652.18 L607.48 654.71 L608.1 657.23 L608.76 659.94 L609.47 662.85 L610.18 665.76 L610.84 668.47 L611.4 670.75 L611.8 672.4 L611.8 674.27 L611.8 676.85 L611.8 679.91 L611.8 683.21 L611.8 686.51 L611.8 689.57 L611.8 692.44 L611.8 695.3 L611.8 698.16 L611.8 701.03 L611.8 703.89 L611.8 706.75 L611.8 709.61 L611.8 712.48 L611.8 715.34 L611.8 718.2 L611.8 721.06 L611.8 723.93 L611.8 726.99 L611.8 730.29 L611.8 733.59 L611.8 736.65 L611.8 739.23 L611.8 741.1" fill="none" stroke="#00ff00" stroke-width="2.35" stroke-linejoin="round" stroke-dasharray="28.2 7.9"/>
<path d="M90.2 45.15H786.6V741.1H90.2Z M90.2 393.45H786.6M644.77 45.15v8.1M644.77 385.35V401.55M644.77 741.1v-8.1M561.8 45.15v8.1M561.8 385.35V401.55M561.8 741.1v-8.1M502.94 45.15v8.1M502.94 385.35V401.55M502.94 741.1v-8.1M457.28 45.15v8.1M457.28 385.35V401.55M457.28 741.1v-8.1M419.97 45.15v8.1M419.97 385.35V401.55M419.97 741.1v-8.1M388.43 45.15v8.1M388.43 385.35V401.55M388.43 741.1v-8.1M361.11 45.15v8.1M361.11 385.35V401.55M361.11 741.1v-8.1M337.01 45.15v8.1M337.01 385.35V401.55M337.01 741.1v-8.1M173.62 45.15v8.1M173.62 385.35V401.55M173.62 741.1v-8.1M315.45 45.15v16.5M315.45 376.95V409.95M315.45 741.1v-16.5M90.2 379.52h8.1M786.6 379.52h-8.1M90.2 365.59h8.1M786.6 365.59h-8.1M90.2 351.65h8.1M786.6 351.65h-8.1M90.2 337.72h8.1M786.6 337.72h-8.1M90.2 323.79h16.5M786.6 323.79h-16.5M90.2 309.86h8.1M786.6 309.86h-8.1M90.2 295.93h8.1M786.6 295.93h-8.1M90.2 281.99h8.1M786.6 281.99h-8.1M90.2 268.06h8.1M786.6 268.06h-8.1M90.2 254.13h16.5M786.6 254.13h-16.5M90.2 240.2h8.1M786.6 240.2h-8.1M90.2 226.27h8.1M786.6 226.27h-8.1M90.2 212.33h8.1M786.6 212.33h-8.1M90.2 198.4h8.1M786.6 198.4h-8.1M90.2 184.47h16.5M786.6 184.47h-16.5M90.2 170.54h8.1M786.6 170.54h-8.1M90.2 156.61h8.1M786.6 156.61h-8.1M90.2 142.67h8.1M786.6 142.67h-8.1M90.2 128.74h8.1M786.6 128.74h-8.1M90.2 114.81h16.5M786.6 114.81h-16.5M90.2 100.88h8.1M786.6 100.88h-8.1M90.2 86.95h8.1M786.6 86.95h-8.1M90.2 73.01h8.1M786.6 73.01h-8.1M90.2 59.08h8.1M786.6 59.08h-8.1M90.2 714.94h8.1M786.6 714.94h-8.1M90.2 699.63h8.1M786.6 699.63h-8.1M90.2 688.77h8.1M786.6 688.77h-8.1M90.2 680.35h8.1M786.6 680.35h-8.1M90.2 673.47h8.1M786.6 673.47h-8.1M90.2 667.65h8.1M786.6 667.65h-8.1M90.2 662.61h8.1M786.6 662.61h-8.1M90.2 658.16h8.1M786.6 658.16h-8.1M90.2 654.19h16.5M786.6 654.19h-16.5M90.2 628.02h8.1M786.6 628.02h-8.1M90.2 612.72h8.1M786.6 612.72h-8.1M90.2 601.86h8.1M786.6 601.86h-8.1M90.2 593.44h8.1M786.6 593.44h-8.1M90.2 586.56h8.1M786.6 586.56h-8.1M90.2 580.74h8.1M786.6 580.74h-8.1M90.2 575.7h8.1M786.6 575.7h-8.1M90.2 571.25h8.1M786.6 571.25h-8.1M90.2 567.27h16.5M786.6 567.27h-16.5M90.2 541.11h8.1M786.6 541.11h-8.1M90.2 525.81h8.1M786.6 525.81h-8.1M90.2 514.95h8.1M786.6 514.95h-8.1M90.2 506.53h8.1M786.6 506.53h-8.1M90.2 499.64h8.1M786.6 499.64h-8.1M90.2 493.83h8.1M786.6 493.83h-8.1M90.2 488.79h8.1M786.6 488.79h-8.1M90.2 484.34h8.1M786.6 484.34h-8.1M90.2 480.36h16.5M786.6 480.36h-16.5M90.2 454.2h8.1M786.6 454.2h-8.1M90.2 438.89h8.1M786.6 438.89h-8.1M90.2 428.04h8.1M786.6 428.04h-8.1M90.2 419.61h8.1M786.6 419.61h-8.1M90.2 412.73h8.1M786.6 412.73h-8.1M90.2 406.91h8.1M786.6 406.91h-8.1M90.2 401.87h8.1M786.6 401.87h-8.1M90.2 397.43h8.1M786.6 397.43h-8.1" fill="none" stroke="#000" stroke-width="2.35" stroke-linejoin="round" stroke-linecap="butt"/>
<path d="M67.8 315.65 L66.2 323.4M66.2 323.4 L67.8 321.85 L70.2 321.08 L72.6 321.08 L75 321.85 L76.6 323.4 L77.4 325.73 L77.4 327.28 L76.6 329.6 L75 331.15 L72.6 331.93 L70.2 331.93 L67.8 331.15 L67 330.38 L66.2 328.83 L66.2 328.05 L67 327.28 L67.8 328.05 L67 328.83M72.6 321.08 L74.2 321.85 L75.8 323.4 L76.6 325.73 L76.6 327.28 L75.8 329.6 L74.2 331.15 L72.6 331.93M67.8 315.65 L75.8 315.65M67.8 316.43 L71.8 316.43 L75.8 315.65M53.4 248.7 L54.6 248.08 L56.68 245.99 L56.68 262.27M55.88 246.77 L55.88 262.27M53.72 262.27 L58.76 262.27M71 245.99 L68.6 246.77 L67 249.09 L66.2 252.97 L66.2 255.29 L67 259.17 L68.6 261.49 L71 262.27 L72.6 262.27 L75 261.49 L76.6 259.17 L77.4 255.29 L77.4 252.97 L76.6 249.09 L75 246.77 L72.6 245.99 L71 245.99M71 245.99 L69.4 246.77 L68.6 247.54 L67.8 249.09 L67 252.97 L67 255.29 L67.8 259.17 L68.6 260.72 L69.4 261.49 L71 262.27M72.6 262.27 L74.2 261.49 L75 260.72 L75.8 259.17 L76.6 255.29 L76.6 252.97 L75.8 249.09 L75 247.54 L74.2 246.77 L72.6 245.99M53.4 179.04 L54.6 178.42 L56.68 176.33 L56.68 192.61M55.88 177.11 L55.88 192.61M53.72 192.61 L58.76 192.61M67.8 176.33 L66.2 184.08M66.2 184.08 L67.8 182.53 L70.2 181.76 L72.6 181.76 L75 182.53 L76.6 184.08 L77.4 186.41 L77.4 187.96 L76.6 190.28 L75 191.83 L72.6 192.61 L70.2 192.61 L67.8 191.83 L67 191.06 L66.2 189.51 L66.2 188.73 L67 187.96 L67.8 188.73 L67 189.51M72.6 181.76 L74.2 182.53 L75.8 184.08 L76.6 186.41 L76.6 187.96 L75.8 190.28 L74.2 191.83 L72.6 192.61M67.8 176.33 L75.8 176.33M67.8 177.11 L71.8 177.11 L75.8 176.33M51 109.77 L51.8 110.55 L51 111.32 L50.2 110.55 L50.2 109.77 L51 108.22 L51.8 107.45 L54.2 106.67 L57.4 106.67 L59.8 107.45 L60.6 108.22 L61.4 109.77 L61.4 111.32 L60.6 112.87 L58.2 114.42 L54.2 115.97 L52.6 116.75 L51 118.3 L50.2 120.62 L50.2 122.95M57.4 106.67 L59 107.45 L59.8 108.22 L60.6 109.77 L60.6 111.32 L59.8 112.87 L57.4 114.42 L54.2 115.97M50.2 121.4 L51 120.62 L52.6 120.62 L56.6 122.17 L59 122.17 L60.6 121.4 L61.4 120.62M52.6 120.62 L56.6 122.95 L59.8 122.95 L60.6 122.17 L61.4 120.62 L61.4 119.07M71 106.67 L68.6 107.45 L67 109.77 L66.2 113.65 L66.2 115.97 L67 119.85 L68.6 122.17 L71 122.95 L72.6 122.95 L75 122.17 L76.6 119.85 L77.4 115.97 L77.4 113.65 L76.6 109.77 L75 107.45 L72.6 106.67 L71 106.67M71 106.67 L69.4 107.45 L68.6 108.22 L67.8 109.77 L67 113.65 L67 115.97 L67.8 119.85 L68.6 121.4 L69.4 122.17 L71 122.95M72.6 122.95 L74.2 122.17 L75 121.4 L75.8 119.85 L76.6 115.97 L76.6 113.65 L75.8 109.77 L75 108.22 L74.2 107.45 L72.6 106.67M51 40.11 L51.8 40.89 L51 41.66 L50.2 40.89 L50.2 40.11 L51 38.56 L51.8 37.79 L54.2 37.01 L57.4 37.01 L59.8 37.79 L60.6 38.56 L61.4 40.11 L61.4 41.66 L60.6 43.21 L58.2 44.76 L54.2 46.31 L52.6 47.09 L51 48.64 L50.2 50.96 L50.2 53.29M57.4 37.01 L59 37.79 L59.8 38.56 L60.6 40.11 L60.6 41.66 L59.8 43.21 L57.4 44.76 L54.2 46.31M50.2 51.74 L51 50.96 L52.6 50.96 L56.6 52.51 L59 52.51 L60.6 51.74 L61.4 50.96M52.6 50.96 L56.6 53.29 L59.8 53.29 L60.6 52.51 L61.4 50.96 L61.4 49.41M67.8 37.01 L66.2 44.76M66.2 44.76 L67.8 43.21 L70.2 42.44 L72.6 42.44 L75 43.21 L76.6 44.76 L77.4 47.09 L77.4 48.64 L76.6 50.96 L75 52.51 L72.6 53.29 L70.2 53.29 L67.8 52.51 L67 51.74 L66.2 50.19 L66.2 49.41 L67 48.64 L67.8 49.41 L67 50.19M72.6 42.44 L74.2 43.21 L75.8 44.76 L76.6 47.09 L76.6 48.64 L75.8 50.96 L74.2 52.51 L72.6 53.29M67.8 37.01 L75.8 37.01M67.8 37.79 L71.8 37.79 L75.8 37.01M47 733.36 L44.6 734.14 L43 736.46 L42.2 740.34 L42.2 742.66 L43 746.54 L44.6 748.86 L47 749.64 L48.6 749.64 L51 748.86 L52.6 746.54 L53.4 742.66 L53.4 740.34 L52.6 736.46 L51 734.14 L48.6 733.36 L47 733.36M47 733.36 L45.4 734.14 L44.6 734.91 L43.8 736.46 L43 740.34 L43 742.66 L43.8 746.54 L44.6 748.09 L45.4 748.86 L47 749.64M48.6 749.64 L50.2 748.86 L51 748.09 L51.8 746.54 L52.6 742.66 L52.6 740.34 L51.8 736.46 L51 734.91 L50.2 734.14 L48.6 733.36M59.8 748.09 L59 748.86 L59.8 749.64 L60.6 748.86 L59.8 748.09M69.4 736.08 L70.6 735.46 L72.68 733.36 L72.68 749.64M71.88 734.14 L71.88 749.64M69.72 749.64 L74.76 749.64M69.4 648.76 L70.6 648.14 L72.68 646.05 L72.68 662.33M71.88 646.83 L71.88 662.33M69.72 662.33 L74.76 662.33M53.4 561.85 L54.6 561.23 L56.68 559.14 L56.68 575.41M55.88 559.91 L55.88 575.41M53.72 575.41 L58.76 575.41M71 559.14 L68.6 559.91 L67 562.24 L66.2 566.11 L66.2 568.44 L67 572.31 L68.6 574.64 L71 575.41 L72.6 575.41 L75 574.64 L76.6 572.31 L77.4 568.44 L77.4 566.11 L76.6 562.24 L75 559.91 L72.6 559.14 L71 559.14M71 559.14 L69.4 559.91 L68.6 560.69 L67.8 562.24 L67 566.11 L67 568.44 L67.8 572.31 L68.6 573.86 L69.4 574.64 L71 575.41M72.6 575.41 L74.2 574.64 L75 573.86 L75.8 572.31 L76.6 568.44 L76.6 566.11 L75.8 562.24 L75 560.69 L74.2 559.91 L72.6 559.14M37.4 474.94 L38.6 474.32 L40.68 472.23 L40.68 488.5M39.88 473 L39.88 488.5M37.72 488.5 L42.76 488.5M55 472.23 L52.6 473 L51 475.33 L50.2 479.2 L50.2 481.53 L51 485.4 L52.6 487.73 L55 488.5 L56.6 488.5 L59 487.73 L60.6 485.4 L61.4 481.53 L61.4 479.2 L60.6 475.33 L59 473 L56.6 472.23 L55 472.23M55 472.23 L53.4 473 L52.6 473.78 L51.8 475.33 L51 479.2 L51 481.53 L51.8 485.4 L52.6 486.95 L53.4 487.73 L55 488.5M56.6 488.5 L58.2 487.73 L59 486.95 L59.8 485.4 L60.6 481.53 L60.6 479.2 L59.8 475.33 L59 473.78 L58.2 473 L56.6 472.23M71 472.23 L68.6 473 L67 475.33 L66.2 479.2 L66.2 481.53 L67 485.4 L68.6 487.73 L71 488.5 L72.6 488.5 L75 487.73 L76.6 485.4 L77.4 481.53 L77.4 479.2 L76.6 475.33 L75 473 L72.6 472.23 L71 472.23M71 472.23 L69.4 473 L68.6 473.78 L67.8 475.33 L67 479.2 L67 481.53 L67.8 485.4 L68.6 486.95 L69.4 487.73 L71 488.5M72.6 488.5 L74.2 487.73 L75 486.95 L75.8 485.4 L76.6 481.53 L76.6 479.2 L75.8 475.33 L75 473.78 L74.2 473 L72.6 472.23M784.2 759.58 L785.4 758.96 L787.48 756.86 L787.48 773.14M786.68 757.64 L786.68 773.14M784.52 773.14 L789.56 773.14M453.28 756.86 L451.68 764.61M451.68 764.61 L453.28 763.06 L455.68 762.29 L458.08 762.29 L460.48 763.06 L462.08 764.61 L462.88 766.94 L462.88 768.49 L462.08 770.81 L460.48 772.36 L458.08 773.14 L455.68 773.14 L453.28 772.36 L452.48 771.59 L451.68 770.04 L451.68 769.26 L452.48 768.49 L453.28 769.26 L452.48 770.04M458.08 762.29 L459.68 763.06 L461.28 764.61 L462.08 766.94 L462.08 768.49 L461.28 770.81 L459.68 772.36 L458.08 773.14M453.28 756.86 L461.28 756.86M453.28 757.64 L457.28 757.64 L461.28 756.86M305.05 759.58 L306.25 758.96 L308.33 756.86 L308.33 773.14M307.53 757.64 L307.53 773.14M305.37 773.14 L310.41 773.14M322.65 756.86 L320.25 757.64 L318.65 759.96 L317.85 763.84 L317.85 766.16 L318.65 770.04 L320.25 772.36 L322.65 773.14 L324.25 773.14 L326.65 772.36 L328.25 770.04 L329.05 766.16 L329.05 763.84 L328.25 759.96 L326.65 757.64 L324.25 756.86 L322.65 756.86M322.65 756.86 L321.05 757.64 L320.25 758.41 L319.45 759.96 L318.65 763.84 L318.65 766.16 L319.45 770.04 L320.25 771.59 L321.05 772.36 L322.65 773.14M324.25 773.14 L325.85 772.36 L326.65 771.59 L327.45 770.04 L328.25 766.16 L328.25 763.84 L327.45 759.96 L326.65 758.41 L325.85 757.64 L324.25 756.86M160.82 759.96 L161.62 760.74 L160.82 761.51 L160.02 760.74 L160.02 759.96 L160.82 758.41 L161.62 757.64 L164.02 756.86 L167.22 756.86 L169.62 757.64 L170.42 758.41 L171.22 759.96 L171.22 761.51 L170.42 763.06 L168.02 764.61 L164.02 766.16 L162.42 766.94 L160.82 768.49 L160.02 770.81 L160.02 773.14M167.22 756.86 L168.82 757.64 L169.62 758.41 L170.42 759.96 L170.42 761.51 L169.62 763.06 L167.22 764.61 L164.02 766.16M160.02 771.59 L160.82 770.81 L162.42 770.81 L166.42 772.36 L168.82 772.36 L170.42 771.59 L171.22 770.81M162.42 770.81 L166.42 773.14 L169.62 773.14 L170.42 772.36 L171.22 770.81 L171.22 769.26M180.82 756.86 L178.42 757.64 L176.82 759.96 L176.02 763.84 L176.02 766.16 L176.82 770.04 L178.42 772.36 L180.82 773.14 L182.42 773.14 L184.82 772.36 L186.42 770.04 L187.22 766.16 L187.22 763.84 L186.42 759.96 L184.82 757.64 L182.42 756.86 L180.82 756.86M180.82 756.86 L179.22 757.64 L178.42 758.41 L177.62 759.96 L176.82 763.84 L176.82 766.16 L177.62 770.04 L178.42 771.59 L179.22 772.36 L180.82 773.14M182.42 773.14 L184.02 772.36 L184.82 771.59 L185.62 770.04 L186.42 766.16 L186.42 763.84 L185.62 759.96 L184.82 758.41 L184.02 757.64 L182.42 756.86" fill="none" stroke="#000" stroke-width="2.5" stroke-linejoin="round" stroke-linecap="round"/>
<path d="M421.05 794.68 L421.05 809.5M421.72 794.68 L421.72 808.72M422.38 793.12 L422.38 809.5M422.38 793.12 L420.38 795.46 L419.05 796.24M419.38 809.5 L424.05 809.5M439 796.53 L439 808.07M433.23 802.3 L444.77 802.3M459.43 798.58 L451.35 809.5M460.24 798.58 L452.16 809.5M461.05 798.58 L452.97 809.5M461.05 798.58 L451.35 798.58 L451.35 801.7M451.35 809.5 L461.05 809.5 L461.05 806.38M452.16 798.58 L451.35 801.7M452.97 798.58 L451.35 800.92M453.78 798.58 L451.35 800.14M455.39 798.58 L451.35 799.36M457.01 809.5 L461.05 808.72M458.63 809.5 L461.05 807.94M459.43 809.5 L461.05 807.16M460.24 809.5 L461.05 806.38M7.47 642.86 L23.85 637.4M7.47 642.08 L21.51 637.4 L23.85 637.4M7.47 641.3 L21.51 636.62M8.25 631.94 L23.85 637.4M7.47 643.25 L7.47 640.13M7.47 633.89 L7.47 631.55M12.93 626.01 L29.31 626.01M13.71 625.18 L28.53 625.18M12.93 627.25 L12.93 624.35 L29.31 624.35M15.27 624.35 L13.71 623.53 L12.93 621.87 L12.93 620.22 L13.71 617.73 L15.27 616.08 L17.61 615.25 L19.17 615.25 L21.51 616.08 L23.07 617.73 L23.85 620.22 L23.85 621.87 L23.07 623.53 L21.51 624.35M15.27 616.91 L16.83 616.08 L19.95 616.08 L21.51 616.91M12.93 620.22 L13.71 618.56 L14.49 617.73 L16.83 616.91 L19.95 616.91 L22.29 617.73 L23.07 618.56 L23.85 620.22M29.31 627.25 L29.31 623.11M17.61 609.07 L17.61 600.35 L16.05 600.35 L14.49 601.14 L13.71 601.93 L12.93 604.31 L12.93 605.9 L13.71 608.27 L15.27 609.86 L17.61 610.65 L19.17 610.65 L21.51 609.86 L23.07 608.27 L23.85 605.9 L23.85 604.31 L23.07 601.93 L21.51 600.35M16.83 601.14 L16.05 601.14 L14.49 601.93M15.27 609.07 L16.83 609.86 L19.95 609.86 L21.51 609.07M17.61 601.93 L15.27 601.93 L13.71 602.73 L12.93 604.31M12.93 605.9 L13.71 607.48 L14.49 608.27 L16.83 609.07 L19.95 609.07 L22.29 608.27 L23.07 607.48 L23.85 605.9M16.05 587.26 L15.27 587.26 L15.27 587.97 L16.83 587.97 L16.83 586.55 L15.27 586.55 L13.71 587.97 L12.93 589.38 L12.93 591.5 L13.71 593.63 L15.27 595.04 L17.61 595.75 L19.17 595.75 L21.51 595.04 L23.07 593.63 L23.85 591.5 L23.85 590.09 L23.07 587.97 L21.51 586.55M15.27 594.33 L16.83 595.04 L19.95 595.04 L21.51 594.33M12.93 591.5 L13.71 592.92 L14.49 593.63 L16.83 594.33 L19.95 594.33 L22.29 593.63 L23.07 592.92 L23.85 591.5M4.35 580.65 L29.31 580.65M4.35 580.02 L29.31 580.02M4.35 580.65 L4.35 576.25M29.31 580.65 L29.31 576.25M7.47 568.87 L23.85 568.87M8.25 568.14 L23.07 568.14M7.47 569.95 L7.47 567.42 L23.85 567.42M13.71 560.92 L20.73 567.42M17.61 564.53 L23.85 559.47M18.39 564.53 L23.85 560.2M18.39 565.25 L23.85 560.92M12.93 562 L12.93 559.11M23.85 569.95 L23.85 566.34M23.85 562 L23.85 559.11M22.29 561.64 L23.85 558.75M12.93 553.25 L23.85 553.25M13.71 552.45 L23.07 552.45M12.93 554.45 L12.93 551.65 L23.85 551.65M16.05 551.65 L14.49 550.85 L13.71 550.05 L12.93 548.45 L12.93 546.05 L13.71 544.45 L14.49 543.65 L16.83 542.85 L23.85 542.85M14.49 544.45 L16.83 543.65 L23.07 543.65M12.93 546.05 L13.71 545.25 L16.05 544.45 L23.85 544.45M16.05 542.85 L14.49 542.05 L13.71 541.25 L12.93 539.65 L12.93 537.25 L13.71 535.65 L14.49 534.85 L16.83 534.05 L23.85 534.05M14.49 535.65 L16.83 534.85 L23.07 534.85M12.93 537.25 L13.71 536.45 L16.05 535.65 L23.85 535.65M23.85 554.45 L23.85 550.45M23.85 545.65 L23.85 541.65M23.85 536.85 L23.85 532.85M5.33 515.45 L28.34 528.85M14.49 503.44 L12.93 502.65 L16.05 502.65 L14.49 503.44 L13.71 504.23 L12.93 505.81 L12.93 508.98 L13.71 510.56 L14.49 511.35 L16.05 511.35 L17.61 510.56 L18.39 508.98 L19.17 505.02 L19.95 503.44 L22.29 502.65M13.71 510.56 L16.05 511.35M16.83 510.56 L17.61 508.98 L18.39 505.02 L19.17 503.44M19.95 502.65 L23.07 503.44M14.49 511.35 L16.05 510.56 L16.83 508.98 L17.61 505.02 L18.39 503.44 L19.95 502.65 L22.29 502.65 L23.07 503.44 L23.85 505.02 L23.85 508.19 L23.07 509.77 L22.29 510.56 L20.73 511.35 L23.85 511.35 L22.29 510.56M4.35 493.02 L29.31 493.02M4.35 492.35 L29.31 492.35M4.35 497.05 L4.35 492.35M29.31 497.05 L29.31 492.35M7.47 249.87 L23.85 249.87M8.25 249.15 L23.07 249.15M7.47 248.43 L23.85 248.43M7.47 250.95 L7.47 243.38 L8.25 241.21 L9.03 240.49 L10.59 239.77 L12.15 239.77 L13.71 240.49 L14.49 241.21 L15.27 243.38 L15.27 248.43M9.03 241.21 L10.59 240.49 L12.15 240.49 L13.71 241.21M7.47 243.38 L8.25 241.93 L9.81 241.21 L12.93 241.21 L14.49 241.93 L15.27 243.38M15.27 245.54 L16.05 244.1 L17.61 243.38 L22.29 241.93 L23.85 241.21 L23.85 239.77 L22.29 239.05 L20.73 239.05M20.73 241.93 L22.29 241.21 L23.07 240.49 L23.07 239.77M16.05 244.1 L16.83 243.38 L21.51 241.21 L22.29 240.49 L22.29 239.77 L21.51 239.05M23.85 250.95 L23.85 247.34M5.33 221.15 L28.34 234.55M12.93 215.51 L23.85 215.51M13.71 214.68 L23.07 214.68M12.93 216.75 L12.93 213.86 L23.85 213.86M14.49 208.08 L13.71 208.08 L13.71 208.9 L15.27 208.9 L15.27 207.25 L13.71 207.25 L12.93 208.08 L12.93 209.73 L13.71 211.38 L15.27 213.03 L17.61 213.86M23.85 216.75 L23.85 212.62" fill="none" stroke="#0000ff" stroke-width="2.5" stroke-linejoin="round" stroke-linecap="round"/>
<path d="M24.81 204.35 L31.6 201.95M24.81 203.95 L30.63 201.95M24.81 203.55 L30.63 201.55M25.29 199.55 L30.63 201.55 L31.6 201.95M24.81 204.55 L24.81 202.95M24.81 200.55 L24.81 199.35M21.41 195.43 L22.38 195.43 L22.38 194.87 L21.41 194.87 L21.41 195.43M21.9 195.43 L21.9 194.87M24.81 195.43 L31.6 195.43M25.29 195.15 L31.11 195.15M24.81 195.85 L24.81 194.87 L31.6 194.87M31.6 195.85 L31.6 194.45M24.81 189.82 L31.6 189.82M25.29 189.37 L31.11 189.37M24.81 190.5 L24.81 188.92 L31.6 188.92M25.78 185.75 L25.29 185.75 L25.29 186.2 L26.27 186.2 L26.27 185.3 L25.29 185.3 L24.81 185.75 L24.81 186.66 L25.29 187.56 L26.27 188.47 L27.72 188.92M31.6 190.5 L31.6 188.24" fill="none" stroke="#0000ff" stroke-width="2.5" stroke-linejoin="round" stroke-linecap="round"/>
</svg>
</body></html>
